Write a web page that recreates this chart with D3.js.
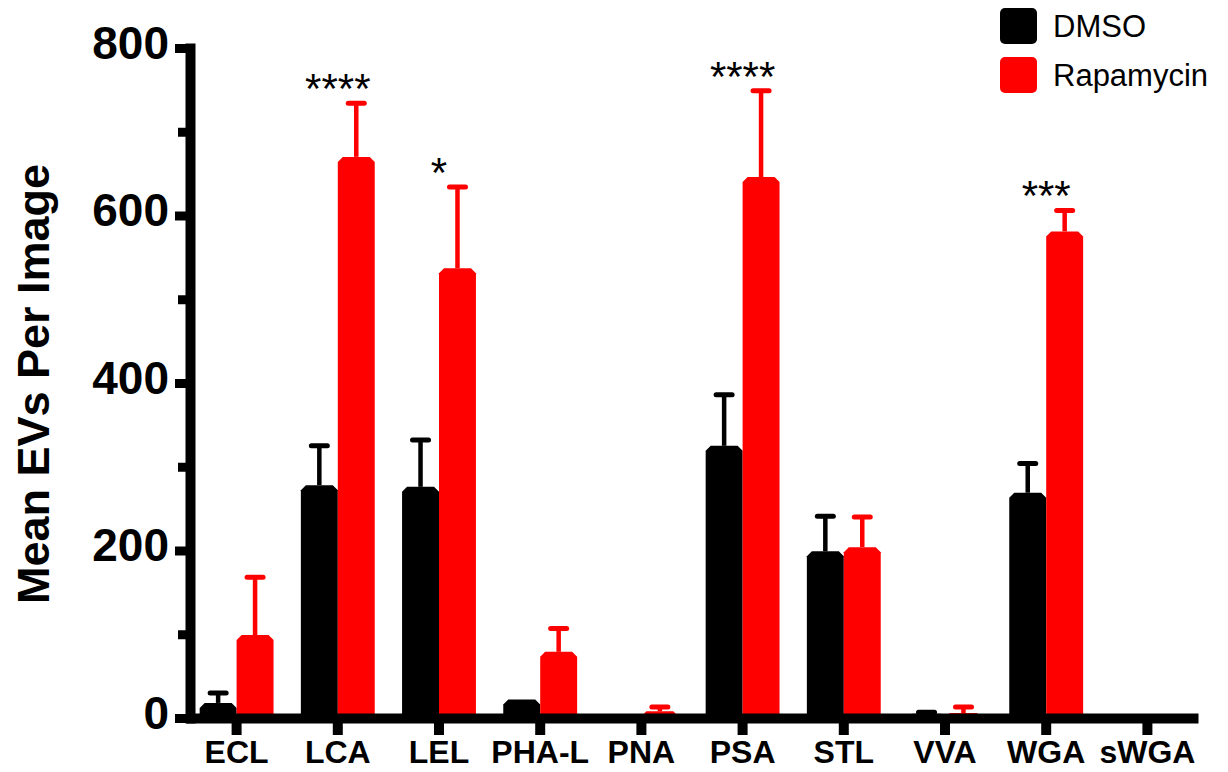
<!DOCTYPE html>
<html>
<head>
<meta charset="utf-8">
<script src="https://cdn.jsdelivr.net/npm/d3@7"></script>
<style>
  body { margin: 0; background: #fff; }
  svg { display: block; font-family: "Liberation Sans", Arial, Helvetica, sans-serif; }
</style>
</head>
<body>
<div id="chart"></div>
<script>
// lectin panel, mean EVs per image (bars = mean, whiskers = +SEM)
const categories = ["ECL", "LCA", "LEL", "PHA-L", "PNA", "PSA", "STL", "VVA", "WGA", "sWGA"];
const groups = ["DMSO", "Rapamycin"];
const groupColors = ["#000000", "#ff0000"];

const dmsoMean = [18, 278, 276, 22, 0, 325, 199, 5, 269, 0];
const dmsoSem = [12, 47, 56, 0, 0, 61, 42, 2, 35, 0];
const rapaMean = [99, 670, 537, 79, 8, 646, 204, 6, 581, 0];
const rapaSem = [69, 64, 97, 28, 5, 103, 36, 7, 25, 0];
const sigLabels = ["", "****", "*", "", "", "****", "", "", "***", ""];

const yMajorTicks = [0, 200, 400, 600, 800];
const yMinorTicks = [100, 300, 500, 700];

const width = 1228, height = 772;
const fontFamily = '"Liberation Sans", Arial, Helvetica, sans-serif';

const svg = d3.select("#chart").append("svg")
  .attr("width", width)
  .attr("height", height);

const x = d3.scaleBand()
  .domain(categories)
  .range([186, 1198])
  .paddingInner(0.27)
  .paddingOuter(0.135);

const xInner = d3.scaleBand()
  .domain(groups)
  .range([0, x.bandwidth()]);

const y = d3.scaleLinear().domain([0, 800]).range([718, 48]);

// rows of data per category and group
const rows = [];
categories.forEach((c, i) => {
  rows.push({ cat: c, group: "DMSO", mean: dmsoMean[i], sem: dmsoSem[i], color: groupColors[0] });
  rows.push({ cat: c, group: "Rapamycin", mean: rapaMean[i], sem: rapaSem[i], color: groupColors[1] });
});

function barPath(x0, w, yTop, yBot, r) {
  const h = yBot - yTop;
  const c = Math.min(r, h, w / 2);
  return `M${x0},${yBot} V${yTop + c} L${x0 + c},${yTop} H${x0 + w - c} L${x0 + w},${yTop + c} V${yBot} Z`;
}

// error bars (drawn first, bars cover the lower part)
const err = svg.append("g");
rows.filter(d => d.sem > 0).forEach(d => {
  const cx = x(d.cat) + xInner(d.group) + xInner.bandwidth() / 2;
  err.append("line")
    .attr("x1", cx).attr("x2", cx)
    .attr("y1", y(d.mean)).attr("y2", y(d.mean + d.sem))
    .attr("stroke", d.color)
    .attr("stroke-width", 4.5);
  err.append("line")
    .attr("x1", cx - 8).attr("x2", cx + 8)
    .attr("y1", y(d.mean + d.sem)).attr("y2", y(d.mean + d.sem))
    .attr("stroke", d.color)
    .attr("stroke-width", 5)
    .attr("stroke-linecap", "round");
});

svg.append("g")
  .selectAll("path")
  .data(rows.filter(d => d.mean > 0))
  .enter().append("path")
  .attr("d", d => barPath(x(d.cat) + xInner(d.group), xInner.bandwidth(), y(d.mean), y(0), 5))
  .attr("fill", d => d.color);

// significance stars
svg.append("g")
  .selectAll("text")
  .data(categories.map((c, i) => ({ cat: c, label: sigLabels[i], top: rapaMean[i] + rapaSem[i] })).filter(d => d.label))
  .enter().append("text")
  .attr("x", d => x(d.cat) + x.bandwidth() / 2)
  .attr("y", d => y(d.top))
  .attr("text-anchor", "middle")
  .style("font-family", fontFamily)
  .style("font-size", "42px")
  .text(d => d.label);

// y axis
const yAxisG = svg.append("g")
  .attr("transform", "translate(190,0)")
  .call(d3.axisLeft(y).tickValues(yMajorTicks).tickSize(15).tickSizeOuter(0).tickPadding(6));
yAxisG.select(".domain")
  .attr("stroke", "#000").attr("stroke-width", 10).attr("stroke-linecap", "square");
yAxisG.selectAll(".tick line").attr("stroke", "#000").attr("stroke-width", 9);
yAxisG.selectAll(".tick text")
  .attr("dy", "0.22em")
  .style("font-family", fontFamily)
  .style("font-size", "46px")
  .style("font-weight", "bold")
  .attr("fill", "#000");

svg.append("g")
  .attr("transform", "translate(190,0)")
  .call(d3.axisLeft(y).tickValues(yMinorTicks).tickSize(12).tickFormat(""))
  .call(g => g.select(".domain").remove())
  .selectAll(".tick line").attr("stroke", "#000").attr("stroke-width", 9);

// x axis
const xAxisG = svg.append("g")
  .attr("transform", "translate(0,718)")
  .call(d3.axisBottom(x).tickSize(17).tickSizeOuter(0).tickPadding(5));
xAxisG.select(".domain").attr("stroke", "#000").attr("stroke-width", 10);
xAxisG.selectAll(".tick line").attr("stroke", "#000").attr("stroke-width", 10);
xAxisG.selectAll(".tick text")
  .style("font-family", fontFamily)
  .style("font-size", "32px")
  .style("font-weight", "bold")
  .attr("fill", "#000");

// y title
svg.append("text")
  .attr("transform", "translate(49,384) rotate(-90)")
  .attr("text-anchor", "middle")
  .style("font-family", fontFamily)
  .style("font-size", "45px")
  .style("font-weight", "bold")
  .text("Mean EVs Per Image");

// legend
const legend = svg.append("g");
groups.forEach((g, i) => {
  legend.append("rect")
    .attr("x", 1000).attr("y", 8 + i * 49)
    .attr("width", 37).attr("height", 36)
    .attr("rx", 5)
    .attr("fill", groupColors[i]);
  legend.append("text")
    .attr("x", 1053).attr("y", 37 + i * 49)
    .style("font-family", fontFamily)
    .style("font-size", "31px")
    .text(g);
});
</script>
</body>
</html>
